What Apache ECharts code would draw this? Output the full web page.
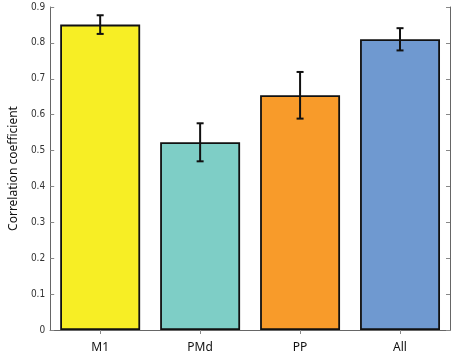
<!DOCTYPE html>
<html><head><meta charset="utf-8">
<script src="https://cdn.jsdelivr.net/npm/echarts@6/dist/echarts.min.js"></script>
<style>html,body{margin:0;padding:0;background:#fff}#c{width:454px;height:356px}</style>
</head><body><div id="c"></div>
<script>
var categories = ['M1', 'PMd', 'PP', 'All'];
var values = [0.851, 0.523, 0.654, 0.810];
var errors = [0.026, 0.053, 0.065, 0.031];
var colors = ['#F7EE25', '#7ECEC6', '#F89B2A', '#6F99D0'];
var yTicks = [0, 0.1, 0.2, 0.3, 0.4, 0.5, 0.6, 0.7, 0.8, 0.9];

var chart = echarts.init(document.getElementById('c'));
var errData = values.map(function (v, i) { return [i, v - errors[i], v + errors[i]]; });
var axisLine = { show: true, lineStyle: { color: '#666', width: 1 } };
chart.setOption({
  animation: false,
  grid: { left: 40, right: 4, top: 7, bottom: 26 },
  xAxis: [{
    type: 'category', data: categories, position: 'bottom',
    axisLine: axisLine,
    axisTick: { show: true, inside: true, alignWithLabel: true, length: 0 },
    axisLabel: { color: '#111', fontSize: 12, margin: 12, fontFamily: 'Noto Sans' }
  }, {
    type: 'category', data: categories, position: 'top',
    axisLine: axisLine,
    axisTick: { show: true, inside: true, alignWithLabel: true, length: 4, lineStyle: { color: '#888' } },
    axisLabel: { show: false }
  }],
  yAxis: [{
    type: 'value', min: 0, max: 0.9, interval: 0.1,
    name: 'Correlation coefficient', nameLocation: 'middle', nameGap: 28,
    nameTextStyle: { fontSize: 12, color: '#111', fontFamily: 'Noto Sans' },
    axisLine: axisLine,
    axisTick: { show: true, inside: true, length: 4, lineStyle: { color: '#888' } },
    axisLabel: { fontSize: 10, color: '#333', margin: 5, fontFamily: 'DejaVu Sans Condensed',
      formatter: function (v) { return yTicks.indexOf(Math.round(v * 10) / 10) >= 0 ? (v === 0 ? '0' : v.toFixed(1)) : ''; } },
    splitLine: { show: false }
  }, {
    type: 'value', min: 0, max: 0.9, interval: 0.1, position: 'right',
    axisLine: axisLine,
    axisTick: { show: true, inside: true, length: 4, lineStyle: { color: '#888' } },
    axisLabel: { show: false }, splitLine: { show: false }
  }],
  series: [{
    type: 'bar', data: values.map(function (v, i) { return { value: v, itemStyle: { color: colors[i] } }; }),
    barCategoryGap: '20%',
    itemStyle: { borderColor: '#111', borderWidth: 1.8 }
  }, {
    type: 'custom', data: errData, z: 10,
    renderItem: function (params, api) {
      var x = api.value(0);
      var lo = api.coord([x, api.value(1)]);
      var hi = api.coord([x, api.value(2)]);
      var w = 3.5;
      var st = { stroke: '#111', lineWidth: 2 };
      return { type: 'group', children: [
        { type: 'line', shape: { x1: lo[0], y1: lo[1], x2: hi[0], y2: hi[1] }, style: st },
        { type: 'line', shape: { x1: lo[0] - w, y1: lo[1], x2: lo[0] + w, y2: lo[1] }, style: st },
        { type: 'line', shape: { x1: hi[0] - w, y1: hi[1], x2: hi[0] + w, y2: hi[1] }, style: st }
      ] };
    }
  }]
});
</script></body></html>
